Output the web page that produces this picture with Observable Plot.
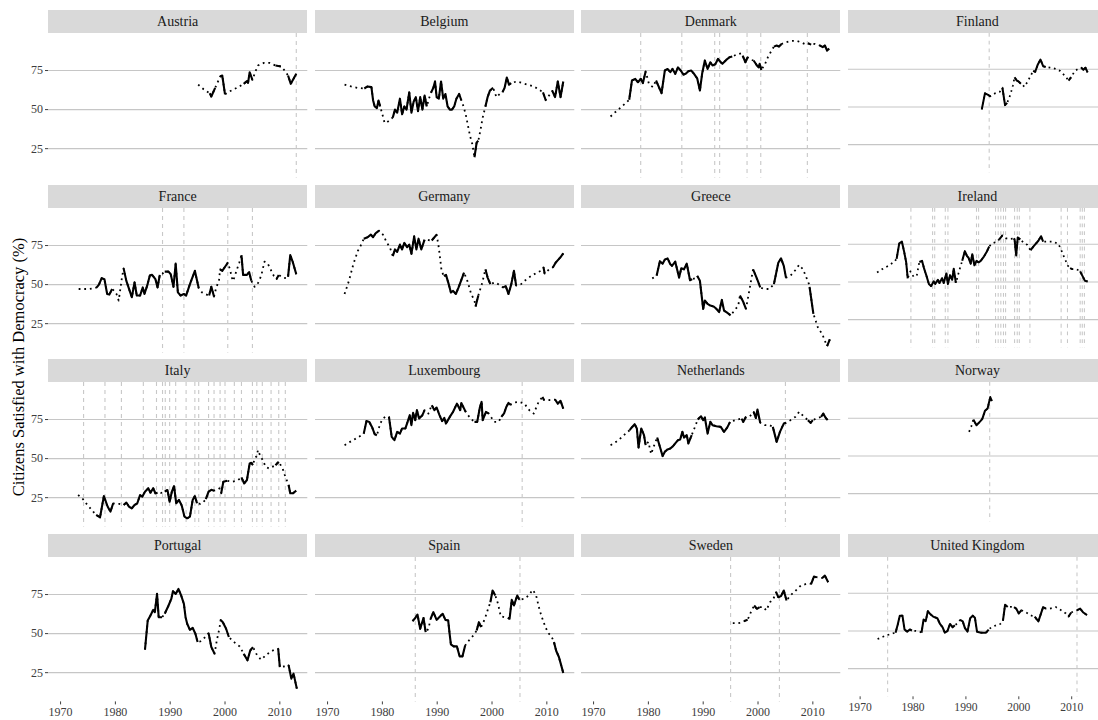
<!DOCTYPE html>
<html>
<head>
<meta charset="utf-8">
<script src="https://cdn.jsdelivr.net/npm/d3@7"></script>
<script src="https://cdn.jsdelivr.net/npm/@observablehq/plot@0.6"></script>
<style>
html, body { margin: 0; padding: 0; background: #fff; overflow: hidden; }
#chart { position: relative; width: 1098px; height: 720px; font-family: "Liberation Serif", serif; overflow: hidden; }
.panel { position: absolute; }
.strip { position: absolute; background: #d9d9d9; color: #1a1a1a; font-size: 14px; text-align: center; height: 23px; line-height: 23px; font-family: "Liberation Serif", serif; }
.ylab { position: absolute; width: 420px; text-align: center; font-size: 16.5px; color: #000; transform: rotate(-90deg); white-space: nowrap; font-family: "Liberation Serif", serif; }
</style>
</head>
<body>
<div id="chart"></div>
<script>
// ---------------- data ----------------
const countries = ["Austria","Belgium","Denmark","Finland","France","Germany","Greece","Ireland","Italy","Luxembourg","Netherlands","Norway","Portugal","Spain","Sweden","United Kingdom"];
const xTicks = [1970, 1980, 1990, 2000, 2010];
const yTicks = [25, 50, 75];
const yTitle = "Citizens Satisfied with Democracy (%)";

// rows: [year, percent satisfied, observed (1) or interpolated (0)]
const austria = [[1995.1,66,0],[1996.1,63,0],[1997.2,60.5,1],[1997.5,58.4,1],[1998.2,63.9,1],[1998.6,67,0],[1999.1,71.2,1],[1999.5,71.8,1],[2000.0,59.7,1],[2000.8,61.6,0],[2001.8,63.3,0],[2002.6,64.8,0],[2003.4,66.5,1],[2004.0,68.2,1],[2004.2,67.1,1],[2004.5,73.9,1],[2005.0,69,1],[2005.5,74,0],[2006.0,78.2,0],[2007.1,79.9,0],[2008.1,79.9,0],[2009.2,78.2,1],[2010.2,77.6,1],[2010.9,75,0],[2011.5,71.8,1],[2012.0,66.5,1],[2013.0,72.9,1]];
const belgium = [[1973.1,66,0],[1974.3,64.8,0],[1975.5,63.9,0],[1976.7,63.5,1],[1977.3,64.8,1],[1978.0,64.4,1],[1978.3,56,1],[1978.6,52,1],[1979.0,51,1],[1979.3,55.8,1],[1979.6,52,1],[1980.0,47,0],[1980.4,41.5,0],[1980.9,42,0],[1981.4,43.5,0],[1981.9,45,1],[1982.3,50,1],[1982.7,48,1],[1983.2,57,1],[1983.6,47,1],[1984.0,52,1],[1984.4,50,1],[1984.9,61,1],[1985.3,48,1],[1985.7,55,1],[1986.1,58,1],[1986.5,49,1],[1986.9,58,1],[1987.3,50,1],[1987.7,59,1],[1988.1,52,1],[1988.5,57,0],[1988.9,61,1],[1989.3,64,1],[1989.6,68,1],[1989.9,58,1],[1990.3,57,1],[1990.7,68,1],[1991.1,57,1],[1991.5,60,1],[1991.9,52,1],[1992.3,50,1],[1992.7,50,1],[1993.1,52,1],[1993.5,57,1],[1994.0,60,1],[1994.4,56,1],[1994.8,52,0],[1995.2,47,0],[1995.6,40,0],[1996.0,33,0],[1996.4,28,0],[1996.8,19.5,1],[1997.2,29,1],[1997.5,30,1],[1997.9,37,0],[1998.3,45,0],[1998.8,52,1],[1999.2,58,1],[1999.6,62,1],[2000.2,64,1],[2000.8,58,0],[2001.4,60,0],[2001.9,61,1],[2002.3,64,1],[2002.7,70.5,1],[2003.1,66,1],[2003.5,67,1],[2004.5,68,0],[2005.5,67,0],[2006.5,66,0],[2007.5,65,0],[2008.5,63,0],[2009.3,61,1],[2009.8,56,1],[2010.4,59,0],[2011.0,62,1],[2011.5,58,1],[2012.0,68,1],[2012.5,58,1],[2013.0,68,1]];
const denmark = [[1973.1,45.6,0],[1974.0,48.5,0],[1974.9,51.2,0],[1975.8,54,0],[1976.5,56.3,1],[1977.0,68.6,1],[1977.6,69.7,1],[1978.1,67.5,1],[1978.6,69.7,1],[1979.0,67,1],[1979.5,74.4,1],[1980.1,66.5,0],[1980.8,64.4,0],[1981.4,68.6,1],[1982.4,60.5,1],[1983.0,75,1],[1983.5,76,1],[1984.0,74,1],[1984.4,76,1],[1984.9,72.9,1],[1985.4,77,1],[1985.9,75,1],[1986.4,72.4,1],[1986.8,72.9,1],[1987.3,74.6,1],[1987.8,75,1],[1988.3,73,1],[1988.9,70,1],[1989.4,62.2,1],[1989.8,72.9,1],[1990.3,81.4,1],[1990.8,76,1],[1991.3,80.3,1],[1991.7,78.2,1],[1992.2,79,1],[1992.7,82.4,1],[1993.2,80.3,1],[1993.5,79.3,1],[1994.2,81.8,1],[1994.8,83.5,1],[1995.3,84,1],[1996.1,85.2,0],[1996.9,86,0],[1997.2,84.6,1],[1997.7,80.3,1],[1998.1,83.5,1],[1998.6,82,0],[1999.2,81.4,1],[1999.8,78.2,1],[2000.1,77,1],[2000.3,79.3,1],[2000.6,75.4,1],[2001.3,79.3,0],[2001.8,83.5,0],[2002.3,86.7,0],[2002.9,90.3,1],[2003.4,91,1],[2003.8,90.3,1],[2004.3,92,1],[2005.0,93,0],[2006.0,94,0],[2007.0,94,0],[2007.9,93,0],[2008.5,92,0],[2009.1,92.5,1],[2009.7,91.6,1],[2010.4,92,0],[2011.3,91,1],[2011.8,90,1],[2012.2,91,1],[2012.6,87.8,1],[2013.0,89,1]];
const finland = [[1993.0,48.4,1],[1993.6,59,1],[1994.2,58,1],[1994.6,57,1],[1995.5,59,0],[1996.4,60,0],[1996.9,62.7,1],[1997.4,51.2,1],[1997.8,52.7,1],[1998.4,58,0],[1998.9,64.4,0],[1999.2,69.7,1],[1999.6,67.5,1],[1999.9,67,1],[2000.4,65.4,1],[2001.1,63.3,0],[2001.6,66.5,0],[2002.2,70.3,0],[2002.7,73.9,1],[2003.1,73.3,1],[2003.6,78.2,1],[2004.1,81.4,1],[2004.6,77,1],[2005.1,76.5,1],[2005.9,76,0],[2006.8,75.4,0],[2007.8,73.9,0],[2008.7,70.7,0],[2009.4,67.5,1],[2009.9,69.7,1],[2010.6,73.9,0],[2011.3,75.4,0],[2011.8,76,1],[2012.2,74.6,1],[2012.6,76,1],[2013.0,72.9,1]];
const france = [[1973.3,47.2,0],[1974.2,47.2,0],[1975.3,47.2,0],[1976.1,47.6,0],[1976.6,48.2,1],[1977.0,50,1],[1977.5,54.1,1],[1978.0,53.5,1],[1978.5,44,1],[1978.9,43.6,1],[1979.4,47.2,1],[1979.8,46,0],[1980.2,44,0],[1980.6,39.8,0],[1980.9,47,0],[1981.2,54.5,0],[1981.5,60.4,1],[1982.0,52.4,1],[1982.4,48.2,1],[1983.0,41.9,1],[1983.5,51.4,1],[1983.9,43,1],[1984.5,43,1],[1985.0,48.2,1],[1985.3,44,1],[1985.8,49.3,1],[1986.3,56,1],[1986.7,56.2,1],[1987.3,53.5,1],[1987.7,48.2,1],[1988.1,56.2,1],[1988.6,57,0],[1989.0,58.3,1],[1989.7,58.3,1],[1990.1,56.6,1],[1990.6,48.6,1],[1991.0,63.4,1],[1991.4,45,1],[1991.9,43,1],[1992.5,44,1],[1992.9,43,1],[1993.6,50.3,1],[1994.5,58.8,1],[1995.2,47.8,1],[1995.8,45,0],[1996.3,44,0],[1997.1,43,1],[1997.5,48.6,1],[1998.0,42.3,1],[1998.4,48.2,0],[1998.9,52.4,0],[1999.1,59.8,1],[1999.5,58.8,1],[2000.1,61.9,1],[2000.5,64,1],[2000.9,59.8,0],[2001.4,52.4,0],[2001.7,54.5,0],[2002.2,60,0],[2002.6,64,0],[2003.0,68.9,1],[2003.3,56.2,1],[2004.0,56.2,1],[2004.4,58,1],[2004.8,52.4,1],[2005.4,48.6,0],[2005.9,50,0],[2006.6,55.6,0],[2007.2,64.7,0],[2007.8,63.4,0],[2008.3,59.8,0],[2008.9,55.6,0],[2009.4,53.5,1],[2009.8,56.2,1],[2010.5,54.5,0],[2011.3,54,0],[2011.5,55,1],[2011.9,68.9,1],[2012.4,64,1],[2013.0,56.6,1]];
const germany = [[1973.1,44,0],[1973.9,52.4,0],[1974.7,63,0],[1975.5,71.4,0],[1976.3,76.7,0],[1976.6,79.4,1],[1977.3,80.3,1],[1977.9,82,1],[1978.3,80.3,1],[1978.8,83,1],[1979.4,84.5,1],[1980.1,82,0],[1980.7,77.7,0],[1981.4,73.5,0],[1981.9,68.2,1],[1982.3,72.5,1],[1982.7,71,1],[1983.2,75.6,1],[1983.6,72.5,1],[1984.0,76.7,1],[1984.5,73.9,1],[1984.9,75.6,1],[1985.3,69.7,1],[1985.8,80.9,1],[1986.2,72.5,1],[1986.6,79.4,1],[1987.1,72.5,1],[1987.7,78.8,1],[1988.4,78.5,0],[1989.0,78.2,1],[1989.9,82,1],[1990.3,73.5,0],[1990.8,58.8,0],[1991.2,55.6,1],[1991.6,56.2,1],[1992.1,50.3,1],[1992.5,45,1],[1992.9,46,1],[1993.4,44,1],[1993.9,48.2,1],[1994.9,57.7,1],[1995.5,52.4,0],[1996.2,44,0],[1996.8,39.8,0],[1997.0,36,1],[1997.5,43,1],[1998.2,51,0],[1998.8,59.8,1],[1999.2,54.5,1],[1999.7,50.3,1],[2000.5,51.4,0],[2001.3,50,0],[2002.0,48.2,1],[2002.5,49,1],[2003.0,44,1],[2003.5,50,1],[2004.0,58.8,1],[2004.4,49.3,1],[2005.3,50.3,0],[2006.3,53.5,0],[2007.2,55.6,0],[2008.2,57.7,0],[2008.9,58.8,0],[2009.4,61,1],[2009.6,57,1],[2010.5,60,0],[2011.1,61,1],[2011.6,64,1],[2012.1,66,1],[2012.6,68,1],[2013.0,70,1]];
const greece = [[1980.7,54,0],[1981.2,55,0],[1981.5,55.6,1],[1982.1,65,1],[1982.6,63.4,1],[1983.0,66,1],[1983.5,66.8,1],[1984.0,63,1],[1984.3,62,1],[1984.9,64.7,1],[1985.6,54.5,1],[1986.0,60.4,1],[1986.5,59.8,1],[1987.0,63.4,1],[1987.6,52.8,1],[1988.0,53.5,1],[1988.5,54,0],[1988.9,55.6,1],[1989.4,52.4,1],[1990.0,34.5,1],[1990.3,39.8,1],[1990.8,37.7,1],[1991.3,36.6,1],[1991.9,36,1],[1992.4,34.5,1],[1992.9,32.4,1],[1993.4,40.2,1],[1993.8,33.4,1],[1994.5,31.7,1],[1995.0,30.3,1],[1995.7,33.4,0],[1996.4,36.6,0],[1996.7,43,1],[1997.3,39,1],[1997.8,34.5,1],[1998.3,44,0],[1998.7,52,0],[1999.1,59.8,1],[1999.6,55.6,1],[2000.0,52,1],[2000.4,48.2,1],[2001.1,47.2,0],[2002.1,47.2,0],[2002.9,50.3,1],[2003.7,64,1],[2004.2,66.8,1],[2004.7,62,1],[2005.1,54.5,1],[2005.9,55.6,0],[2006.8,59.2,0],[2007.5,62.6,0],[2008.2,59.8,0],[2008.7,55.6,0],[2009.3,50.3,0],[2009.4,48.6,1],[2010.1,31.3,1],[2010.6,26,0],[2011.0,21.8,0],[2011.7,18.6,0],[2012.1,14.9,0],[2012.6,10.6,1],[2013.1,14.9,1]];
const ireland = [[1973.2,56.3,0],[1974.2,58.5,0],[1975.3,60.6,0],[1976.4,63.2,0],[1976.9,65.3,1],[1977.4,75.6,1],[1977.9,76.7,1],[1978.3,70.4,1],[1978.7,63.2,1],[1979.0,52.4,1],[1979.5,57,0],[1980.1,53.5,0],[1980.7,54,0],[1981.2,63.2,1],[1981.7,64,1],[1982.1,58.8,1],[1982.5,54.5,1],[1983.0,48.6,1],[1983.4,47.2,1],[1983.9,50.3,1],[1984.2,48.6,1],[1984.7,51.4,1],[1985.0,49.3,1],[1985.5,52.4,1],[1985.8,49.3,1],[1986.3,55.6,1],[1986.6,48.6,1],[1987.0,54.5,1],[1987.4,51.4,1],[1987.7,58.8,1],[1988.1,49.3,1],[1988.7,57,0],[1989.3,64,1],[1989.8,70.4,1],[1990.2,67.2,1],[1990.5,66,1],[1990.9,62.1,1],[1991.2,68.4,1],[1991.6,61,1],[1992.0,64,1],[1992.4,63,1],[1992.8,64,1],[1993.4,66.8,1],[1994.0,70.4,1],[1994.4,73.5,1],[1995.0,75.6,0],[1995.9,76.7,0],[1996.3,78.2,1],[1996.9,80.9,1],[1997.5,79,0],[1998.2,78.5,0],[1999.0,78.8,1],[1999.2,78.2,1],[1999.5,67.6,1],[1999.8,79.4,1],[2000.3,78.2,1],[2001.0,75.6,0],[2001.6,74.6,0],[2002.2,71,1],[2002.9,74,1],[2003.7,77.3,1],[2004.2,80.3,1],[2004.6,76.7,1],[2005.6,76.7,0],[2006.5,76.7,0],[2007.5,75.2,0],[2008.1,70.4,0],[2008.7,65.3,0],[2009.3,60.6,0],[2009.7,59.2,1],[2010.1,58.5,1],[2010.8,58.5,0],[2011.3,57.7,0],[2011.6,57,1],[2012.1,53.5,1],[2012.5,50.7,1],[2013.0,50.3,1]];
const italy = [[1973.2,26.7,0],[1974.1,24,0],[1974.9,20.3,0],[1975.7,17.1,0],[1976.3,14.6,0],[1976.5,14,1],[1977.2,12.4,1],[1977.9,26,1],[1978.6,19.2,1],[1979.1,16.1,1],[1979.6,21.4,1],[1980.2,21,0],[1980.7,21,0],[1981.5,20.3,1],[1982.0,21.8,1],[1982.5,19.2,1],[1983.0,18.2,1],[1983.5,20.3,1],[1984.0,21.4,1],[1984.5,26.7,1],[1984.9,25.6,1],[1985.4,28.8,1],[1986.0,31,1],[1986.4,28.2,1],[1986.9,31,1],[1987.3,27.8,1],[1987.7,28.2,1],[1988.3,28,0],[1989.0,28.8,1],[1989.5,29.9,1],[1989.9,22.4,1],[1990.3,28.8,1],[1990.7,32.4,1],[1991.1,21.4,1],[1991.6,23.5,1],[1992.1,20,1],[1992.6,12.9,1],[1993.1,11.8,1],[1993.6,12.9,1],[1994.1,23.5,1],[1994.5,26,1],[1994.9,21.4,1],[1995.5,21,0],[1996.0,22,0],[1996.5,24,1],[1997.0,28.8,1],[1997.5,30,1],[1998.0,29.5,1],[1998.6,30,0],[1999.0,31,0],[1999.3,27.8,1],[1999.7,35.2,1],[2000.4,35.8,1],[2001.4,35.2,0],[2002.4,36.3,0],[2003.0,38,1],[2003.5,34.1,1],[2004.0,36.3,1],[2004.5,46.9,1],[2004.8,47.3,1],[2005.1,45.8,1],[2005.4,50.1,0],[2005.8,51.6,0],[2006.0,55.4,0],[2006.5,51.2,0],[2006.9,49,0],[2007.4,44.8,0],[2008.0,43.7,0],[2008.9,45.2,0],[2009.2,45.8,1],[2009.8,48,1],[2010.5,43.7,0],[2010.9,39.5,0],[2011.3,35.8,0],[2011.6,33.1,1],[2011.9,27.8,1],[2012.4,27.8,1],[2013.0,29.5,1]];
const luxembourg = [[1973.1,58.6,0],[1974.1,60.7,0],[1975.2,62.9,0],[1976.2,65,0],[1976.6,66,1],[1977.1,74.1,1],[1977.6,73.5,1],[1978.1,70.3,1],[1978.6,65.6,1],[1979.0,65,1],[1979.6,72.4,0],[1980.1,75.6,0],[1980.7,77.1,0],[1981.2,76.7,1],[1981.7,63.9,1],[1982.2,61.8,1],[1982.7,67.1,1],[1983.2,66,1],[1983.6,69.3,1],[1984.2,69.3,1],[1984.6,73.5,1],[1985.0,77.8,1],[1985.3,71.4,1],[1985.6,79.3,1],[1986.0,74.6,1],[1986.3,81,1],[1986.7,75.6,1],[1987.3,77.8,1],[1987.7,81,1],[1988.4,78.8,0],[1989.0,84.2,1],[1989.5,81,1],[1989.9,82.7,1],[1990.4,78,1],[1990.9,74,1],[1991.3,76,1],[1991.6,72.4,1],[1992.3,76.7,1],[1992.9,80,1],[1993.6,85.2,1],[1994.2,81,1],[1994.4,85.6,1],[1995.2,79.9,1],[1995.8,77,0],[1996.3,75,0],[1996.8,73.5,1],[1997.3,73.5,1],[1997.8,83,1],[1998.1,86.3,1],[1998.3,74.6,1],[1998.9,79.9,1],[1999.4,78.8,1],[2000.4,73.5,0],[2001.2,73.5,0],[2001.7,76.7,1],[2002.2,79,1],[2002.6,83,1],[2003.0,85.6,1],[2003.4,84.5,1],[2004.2,86,0],[2005.0,86.3,0],[2005.9,85.2,0],[2006.8,81,0],[2007.6,78.8,0],[2008.5,86.3,0],[2009.2,89.5,1],[2009.5,87.4,1],[2010.2,87.4,0],[2011.1,87.6,0],[2011.5,87.8,1],[2012.0,85.2,1],[2012.5,87,1],[2013.0,82,1]];
const netherlands = [[1973.1,58.6,0],[1974.1,60.7,0],[1975.1,63.5,0],[1976.0,66.5,0],[1976.6,68.2,1],[1976.8,69.3,1],[1977.5,72,1],[1977.9,69.3,1],[1978.2,57.1,1],[1978.7,69.3,1],[1979.2,65,1],[1979.5,58.6,1],[1980.0,60.7,0],[1980.5,52.9,0],[1981.0,58,0],[1981.6,63.5,1],[1982.1,57.6,1],[1982.6,51.6,1],[1983.0,54.4,1],[1983.5,55.9,1],[1984.0,56.5,1],[1984.5,58,1],[1984.9,59.7,1],[1985.4,61.8,1],[1985.8,62.2,1],[1986.2,67.1,1],[1986.5,63.5,1],[1987.0,65,1],[1987.3,59.7,1],[1987.9,65,1],[1988.5,70.3,0],[1989.0,75,1],[1989.6,77.1,1],[1990.0,74.6,1],[1990.3,76.3,1],[1990.8,66,1],[1991.3,73.5,1],[1991.7,71.4,1],[1992.4,70.7,1],[1993.2,70.3,1],[1993.8,67.1,1],[1994.4,70,1],[1994.9,73.5,1],[1995.9,74.6,0],[1997.0,75.6,1],[1997.3,73.5,1],[1997.8,76.7,1],[1998.5,77,0],[1999.2,79.9,1],[1999.6,76,1],[1999.9,81.4,1],[2000.4,72.9,1],[2001.2,71.4,0],[2002.1,71.4,0],[2002.7,70.3,1],[2003.4,60.7,1],[2004.0,67.1,1],[2004.7,72.4,1],[2005.1,72.9,1],[2005.9,74.6,0],[2006.8,76.7,0],[2007.5,79.9,0],[2008.3,77.1,0],[2009.1,74.6,1],[2009.6,72.9,1],[2010.0,74.6,1],[2010.6,75.6,0],[2011.0,76,0],[2011.5,76.7,1],[2011.9,78.8,1],[2012.3,76.3,1],[2012.7,74.6,1]];
const norway = [[1990.6,66,0],[1991.0,69.3,0],[1991.4,74.1,1],[1992.0,70.3,1],[1992.7,72.9,1],[1993.1,74.6,1],[1993.6,79.9,1],[1994.1,81.4,1],[1994.6,89,1],[1994.9,86.3,1]];
const portugal = [[1985.4,39.7,1],[1985.9,58.4,1],[1986.4,61.6,1],[1986.9,65.2,1],[1987.2,63.7,1],[1987.6,75.4,1],[1987.9,60.5,1],[1988.5,60.5,1],[1988.75,61.5,0],[1989.0,62.7,1],[1989.7,68,1],[1990.2,72.2,1],[1990.5,77.1,1],[1991.0,75.4,1],[1991.5,78.6,1],[1992.0,74.4,1],[1992.5,69,1],[1992.8,60.5,1],[1993.1,56.3,1],[1993.6,52.4,1],[1994.1,53.7,1],[1994.6,49.9,1],[1995.0,44.6,1],[1995.5,45,0],[1996.1,46.7,0],[1997.0,50.3,1],[1997.5,41.4,1],[1998.1,37.1,1],[1998.5,45.6,0],[1999.0,53.7,0],[1999.2,58.8,1],[1999.6,57.3,1],[2000.2,53.1,1],[2000.7,47.8,1],[2001.3,45.6,0],[2002.0,43.5,0],[2002.7,41.8,0],[2003.4,37.1,1],[2004.1,32.9,1],[2004.6,39.2,1],[2005.1,41.4,1],[2005.7,37.1,0],[2006.4,34,0],[2006.6,33.3,0],[2007.4,36,0],[2008.2,38.2,0],[2009.0,39.7,0],[2009.7,40.3,1],[2010.0,28.6,1],[2010.7,29,0],[2011.3,28.6,0],[2011.6,29.7,1],[2012.1,21.2,1],[2012.5,24.4,1],[2013.1,14.8,1]];
const spain = [[1985.5,58,1],[1986.0,60,1],[1986.4,62.2,1],[1986.9,53.1,1],[1987.5,60,1],[1987.9,51,1],[1988.4,53,0],[1988.8,59.5,1],[1989.3,63.7,1],[1989.9,58.8,1],[1990.5,61,1],[1991.0,62.7,1],[1991.5,58.8,1],[1992.0,58.4,1],[1992.3,48.8,1],[1992.5,43.1,1],[1993.0,41.8,1],[1993.6,41.8,1],[1994.1,35.4,1],[1994.6,35.4,1],[1995.1,42.4,1],[1995.9,46.1,0],[1996.6,48.8,0],[1997.2,52,1],[1997.6,57.3,1],[1998.0,54.1,1],[1998.7,59.5,0],[1999.2,65,0],[1999.7,70.1,1],[2000.1,77.6,1],[2000.6,74.4,1],[2001.1,69,0],[2001.6,61,0],[2002.3,60.5,0],[2002.9,60.1,1],[2003.2,59.5,1],[2003.6,71.6,1],[2004.0,68,1],[2004.6,74.4,1],[2005.0,71.6,1],[2005.8,72.2,0],[2006.7,74.4,0],[2007.4,78,0],[2008.0,75,0],[2008.7,64.8,0],[2009.3,58.4,0],[2009.8,53.7,0],[2010.3,50.3,0],[2010.9,47.8,0],[2011.3,44.6,1],[2011.7,39,1],[2012.2,35,1],[2012.6,30,1],[2013.0,24.8,1]];
const sweden = [[1995.4,56.7,0],[1996.4,56.7,0],[1997.1,57.1,0],[1997.5,58,1],[1998.1,58.8,1],[1998.7,63.7,0],[1999.3,68,1],[1999.8,65.8,1],[2000.3,66.9,1],[2001.0,67,0],[2001.5,64.8,0],[2002.2,70.1,0],[2002.8,72.2,0],[2003.3,76.5,1],[2003.7,73.3,1],[2004.2,74,1],[2004.7,77.6,1],[2005.2,71.2,1],[2005.9,74.4,0],[2006.9,77.6,0],[2007.8,80.7,0],[2008.8,81.8,0],[2009.4,82.2,0],[2009.7,81.8,1],[2010.2,86.5,1],[2010.6,86.1,1],[2011.1,86,0],[2011.7,85.6,1],[2012.2,87.1,1],[2012.8,82.9,1]];
const unitedKingdom = [[1973.3,44.6,0],[1974.3,46.1,0],[1975.2,47.3,0],[1976.0,48.2,0],[1976.7,48.8,1],[1977.1,54.1,1],[1977.5,60.1,1],[1978.0,60.1,1],[1978.4,50.9,1],[1978.9,49.5,1],[1979.4,50.9,1],[1979.8,50.3,1],[1980.7,49.9,0],[1981.3,49.5,0],[1981.6,48.8,1],[1982.0,57.6,1],[1982.4,56.5,1],[1982.8,63.1,1],[1983.3,61,1],[1983.8,59.5,1],[1984.6,58.4,1],[1985.1,54.6,1],[1985.6,52.4,1],[1986.0,48.8,1],[1986.5,49.9,1],[1987.0,54.6,1],[1987.5,52.4,1],[1987.9,53.7,1],[1988.4,55,0],[1988.9,57.3,1],[1989.4,56.3,1],[1989.8,52,1],[1990.3,49.5,1],[1990.8,58.4,1],[1991.3,60.1,1],[1991.7,58.8,1],[1992.1,49.5,1],[1992.9,48.8,1],[1993.8,48.8,1],[1994.3,50.9,1],[1994.8,52.4,0],[1995.7,53.7,0],[1996.5,54.6,0],[1997.0,56.7,1],[1997.4,67.3,1],[1997.9,65.8,1],[1998.5,66,0],[1999.1,65.8,1],[1999.5,64.8,1],[2000.0,61.6,1],[2000.5,63.7,1],[2001.4,62.2,0],[2002.4,60.1,0],[2003.0,59.5,1],[2003.7,56.3,1],[2004.2,61.6,1],[2004.6,65.8,1],[2005.1,64.8,1],[2005.9,64.8,0],[2007.0,65.8,0],[2008.0,63.7,0],[2008.9,61.6,0],[2009.4,59.5,1],[2009.9,62.2,1],[2010.5,63.1,0],[2011.0,63.7,1],[2011.6,64.8,1],[2012.2,62.2,1],[2012.9,60.5,1]];

// referendum dates (vertical dashed lines)
const austriaRefs = [2013.0];
const denmarkRefs = [1978.6, 1986.1, 1992.1, 1993.0, 1998.0, 2000.5, 2009.0];
const finlandRefs = [1994.4];
const franceRefs = [1988.6, 1992.5, 2000.5, 2005.0];
const irelandRefs = [1979.6, 1983.7, 1984.1, 1986.1, 1986.6, 1992.0, 1992.4, 1995.6, 1996.1, 1996.6, 1997.1, 1997.5, 1999.2, 1999.7, 2000.1, 2002.1, 2008.0, 2009.2, 2011.6, 2012.0, 2012.4];
const italyRefs = [1974.2, 1978.1, 1981.1, 1985.1, 1987.5, 1988.6, 1989.1, 1989.9, 1991.0, 1992.9, 1994.5, 1995.2, 1997.0, 1998.0, 1999.1, 2000.0, 2001.7, 2003.0, 2005.0, 2005.8, 2006.8, 2008.4, 2009.8, 2011.0];
const luxembourgRefs = [2005.5];
const netherlandsRefs = [2005.0];
const norwayRefs = [1994.5];
const spainRefs = [1986.0, 2005.1];
const swedenRefs = [1995.0, 2003.9];
const unitedKingdomRefs = [1975.2, 2011.0];

// ---------------- build ----------------
const seriesOf = {"Austria": austria, "Belgium": belgium, "Denmark": denmark, "Finland": finland, "France": france, "Germany": germany, "Greece": greece, "Ireland": ireland, "Italy": italy, "Luxembourg": luxembourg, "Netherlands": netherlands, "Norway": norway, "Portugal": portugal, "Spain": spain, "Sweden": sweden, "United Kingdom": unitedKingdom};
const refsOf = {"Austria": austriaRefs, "Denmark": denmarkRefs, "Finland": finlandRefs, "France": franceRefs, "Ireland": irelandRefs, "Italy": italyRefs, "Luxembourg": luxembourgRefs, "Netherlands": netherlandsRefs, "Norway": norwayRefs, "Spain": spainRefs, "Sweden": swedenRefs, "United Kingdom": unitedKingdomRefs};

const LEFT = 48, PITCH_X = 266.6, PANEL_W = 259.3;
const TOP = 10, PITCH_Y = 174.7, STRIP_H = 23, PANEL_H = 144.4;
const AXIS_L = 48, AXIS_B = 18;
const XDOM = [1967.8, 2015.1], YDOM = [6.3, 98.7];

const chart = document.getElementById("chart");

const ylab = document.createElement("div");
ylab.className = "ylab";
ylab.textContent = yTitle;
ylab.style.left = (18.5 - 210) + "px";
ylab.style.top = (367 - 10) + "px";
ylab.style.lineHeight = "20px";
chart.appendChild(ylab);

countries.forEach((name, i) => {
  const col = i % 4, row = Math.floor(i / 4);
  const x0 = LEFT + col * PITCH_X;
  const y0 = TOP + row * PITCH_Y;
  const ml = col === 0 ? AXIS_L : 0;
  const mb = row === 3 ? AXIS_B : 0;

  const strip = document.createElement("div");
  strip.className = "strip";
  strip.style.left = x0 + "px";
  strip.style.top = y0 + "px";
  strip.style.width = PANEL_W + "px";
  strip.textContent = name;
  chart.appendChild(strip);

  const rows = seriesOf[name].map(([year, value, obs]) => ({year, value, obs}));
  const refs = refsOf[name] || [];

  const marks = [
    Plot.gridY(yTicks, {stroke: "#c6c6c6", strokeOpacity: 1, strokeWidth: 1.1}),
    Plot.ruleX(refs, {stroke: "#c8c8c8", strokeOpacity: 1, strokeWidth: 1.1, strokeDasharray: "4,4"}),
    Plot.line(rows, {x: "year", y: "value", stroke: "#000", strokeWidth: 1.8, strokeDasharray: "1.8,3.8", strokeLinecap: "butt"}),
    Plot.line(rows, {x: "year", y: d => d.obs ? d.value : NaN, stroke: "#000", strokeWidth: 2.1, strokeLinejoin: "round", strokeLinecap: "butt"})
  ];
  if (col === 0) marks.push(Plot.axisY(yTicks, {tickSize: 3, tickPadding: 2.5, fontSize: 12, label: null}));
  if (row === 3) marks.push(Plot.axisX(xTicks, {tickSize: 3, tickPadding: 3, fontSize: 12, label: null, tickFormat: d => String(d)}));

  const svg = Plot.plot({
    width: PANEL_W + ml,
    height: PANEL_H + mb,
    marginLeft: ml, marginRight: 0, marginTop: 0, marginBottom: mb,
    x: {domain: XDOM, axis: null},
    y: {domain: YDOM, axis: null},
    style: {fontFamily: "'Liberation Serif', serif", fontSize: "12px", color: "#3d3d3d", background: "transparent", overflow: "visible"},
    marks
  });
  const holder = document.createElement("div");
  holder.className = "panel";
  holder.style.left = (x0 - ml) + "px";
  holder.style.top = (y0 + STRIP_H) + "px";
  holder.appendChild(svg);
  chart.appendChild(holder);
});
</script>
</body>
</html>
